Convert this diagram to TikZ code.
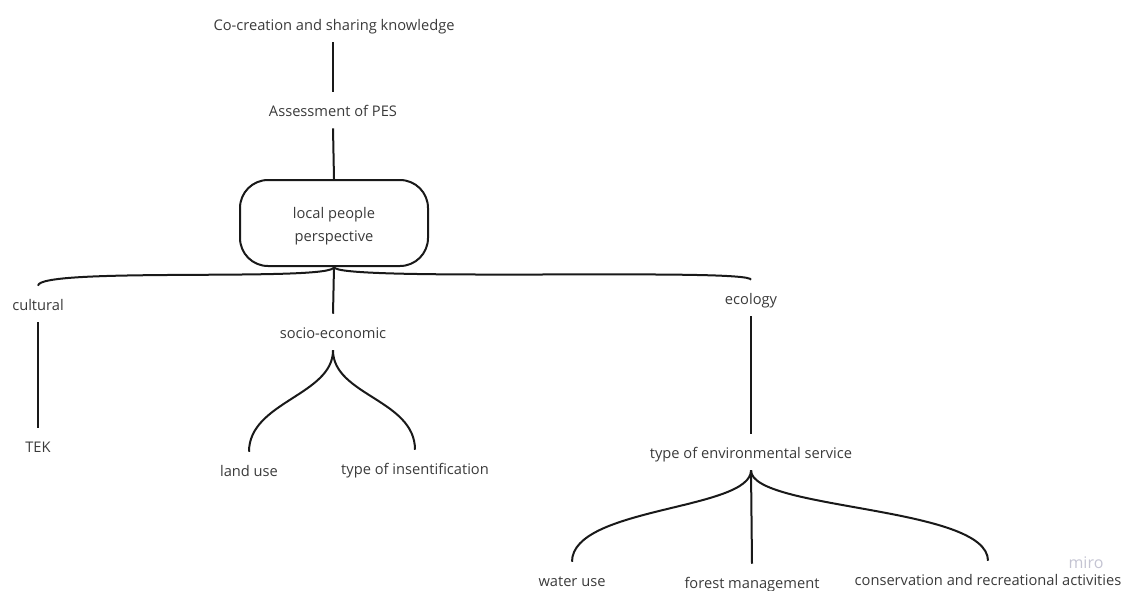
\documentclass[tikz,border=0pt]{standalone}
\usepackage{fontspec}
\setmainfont{Open Sans}
\usepackage{tikz}
\usetikzlibrary{shapes,calc}
\definecolor{txtgray}{RGB}{58,58,58}
\definecolor{mirogray}{RGB}{196,196,210}

\begin{document}
\begin{tikzpicture}[x=0.75pt,y=-0.75pt]
    \tikzstyle{edge} = [line width=1.5pt,draw=black!90]
    \tikzstyle{txt}=[
      anchor=center,
      text=txtgray,
      font=\fontsize{11}{15}\selectfont,
      inner xsep=2pt,
      inner ysep=8pt,
      text height=10pt,
      text depth=1pt,
    ]
    \tikzstyle{box}=[
      draw=black!90,
      line width=1.5pt,
      rounded corners=21pt,
      minimum width=141pt,
      minimum height=64.5pt,
      align=center,
      text=txtgray,
      font=\fontsize{11}{17}\selectfont,
    ]
    \useasboundingbox (0,0) rectangle (1123,590);

    \node[txt] (n1) at (334,24) {Co-creation and sharing knowledge};
    \node[txt] (n2) at (333,110) {Assessment of PES};
    \node[box] (n3) at (334,223) {\rule{0pt}{13pt}local people\\perspective};
    \node[txt] (n4) at (38,304) {cultural};
    \node[txt] (n5) at (38,446) {TEK};
    \node[txt] (n6) at (333,332) {socio-economic};
    \node[txt] (n7) at (249,470) {land use};
    \node[txt] (n8) at (415,468) {type of insentification};
    \node[txt] (n9) at (751,298) {ecology};
    \node[txt] (n10) at (751,452) {type of environmental service};
    \node[txt] (n11) at (572,580) {water use};
    \node[txt] (n12) at (752,582) {forest management};
    \node[txt] (n13) at (988,579) {conservation and recreational activities};
    \node[text=mirogray,inner sep=0pt,font=\fontsize{12}{12}\selectfont] (n14) at (1086,563) {miro};

    \draw[edge] (n2.north |- n1.south)--(n2.north);
    \draw[edge] (n2.south)--(n3.north);
    \draw[edge] (n3.south)--(n6.north);
    \draw[edge] (n3.south) .. controls +(0,15) and +(0,-19) .. (n4.north);
    \draw[edge] (n3.south) .. controls +(0,15) and +(0,-12) .. (n9.north);
    \draw[edge] (n4.south)--(n5.north);
    \draw[edge] (n9.south)--(n10.north);
    \draw[edge] (n6.south) .. controls +(0,45) and +(0,-50) .. (n7.north);
    \draw[edge] (n6.south) .. controls +(0,45) and +(0,-50) .. (n8.north);
    \draw[edge] (n10.south) .. controls +(0,40) and +(0,-55) .. (n11.north);
    \draw[edge] (n10.south)--(n12.north);
    \draw[edge] (n10.south) .. controls +(0,40) and +(0,-55) .. (n13.north);
  \end{tikzpicture}
\end{document}
